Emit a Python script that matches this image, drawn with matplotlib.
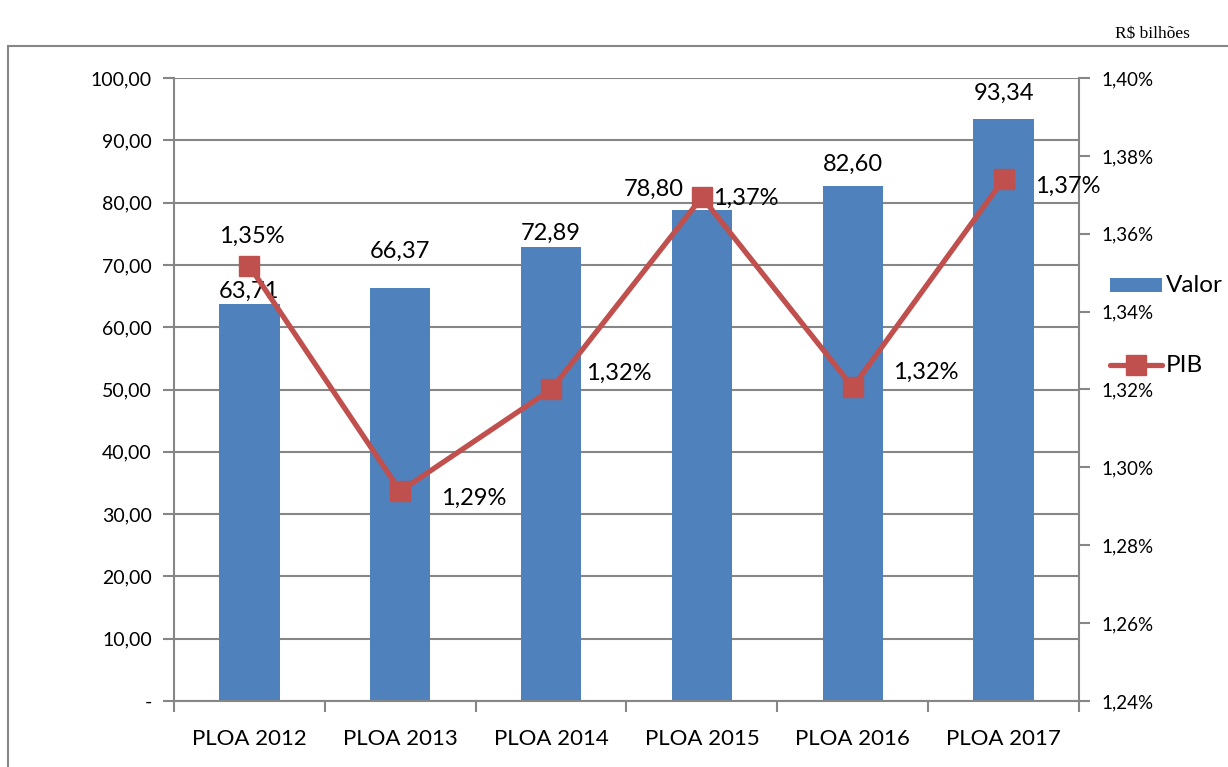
import matplotlib
matplotlib.use("Agg")
import matplotlib.pyplot as plt
from matplotlib.patches import Rectangle
from matplotlib.lines import Line2D
from matplotlib.ticker import FixedLocator, FuncFormatter

categories = ["PLOA 2012", "PLOA 2013", "PLOA 2014", "PLOA 2015", "PLOA 2016", "PLOA 2017"]
valor = [63.71, 66.37, 72.89, 78.80, 82.60, 93.34]
pib = [1.3517, 1.2939, 1.3200, 1.3694, 1.3206, 1.3740]
valor_labels = ["63,71", "66,37", "72,89", "78,80", "82,60", "93,34"]
pib_labels = ["1,35%", "1,29%", "1,32%", "1,37%", "1,32%", "1,37%"]

FONT = ["Lato", "DejaVu Sans"]
plt.rcParams["font.family"] = FONT

W, H = 1228, 767
fig = plt.figure(figsize=(W / 100, H / 100), dpi=100)
GRAY = "#868686"

# outer frame
fig.add_artist(Rectangle((8 / W, -0.1), 1.2, (H - 46) / H + 0.1, transform=fig.transFigure,
                         fill=False, edgecolor=GRAY, linewidth=1.5))
fig.text(1190 / W, (H - 34) / H, "R$ bilhões", ha="right", va="center",
         fontsize=12.5, family=["Liberation Serif", "DejaVu Serif"])

L, R, T, B = 174, 1079, 78, 701
ax = fig.add_axes([L / W, (H - B) / H, (R - L) / W, (B - T) / H])
ax2 = ax.twinx()

x = list(range(len(categories)))
ax.bar(x, valor, width=0.4, color="#4F81BD", zorder=2)
ax.set_xlim(-0.5, len(categories) - 0.5)
ax.set_ylim(0, 100)
ax.set_yticks([i * 10 for i in range(11)])
ax.yaxis.set_major_formatter(FuncFormatter(lambda v, p: "-" if v == 0 else f"{v:.2f}".replace(".", ",")))
ax.grid(axis="y", color=GRAY, linewidth=1.5, zorder=0)
ax.set_axisbelow(True)
ax.set_xticks(x)
ax.set_xticklabels(categories, fontsize=16)
ax.xaxis.set_minor_locator(FixedLocator([i - 0.5 for i in range(len(categories) + 1)]))
ax.tick_params(axis="x", which="major", length=0, pad=20)
ax.tick_params(axis="x", which="minor", length=8, width=1.5, color=GRAY)
ax.tick_params(axis="y", length=8, width=1.5, color=GRAY, labelsize=14, pad=8)
for s in ["top", "right"]:
    ax.spines[s].set_visible(False)
for s in ["left", "bottom"]:
    ax.spines[s].set_color(GRAY)
    ax.spines[s].set_linewidth(1.5)

ax2.plot(x, pib, color="#C0504D", linewidth=3.8, marker="s", markersize=14.5,
         markerfacecolor="#C0504D", markeredgecolor="#C0504D", zorder=3)
ax2.set_ylim(1.24, 1.40)
ax2.set_yticks([1.24 + 0.02 * i for i in range(9)])
ax2.yaxis.set_major_formatter(FuncFormatter(lambda v, p: f"{v:.2f}%".replace(".", ",")))
ax2.tick_params(axis="y", length=8, width=1.5, color=GRAY, labelsize=13.5, pad=8)
for s in ["top", "left", "bottom"]:
    ax2.spines[s].set_visible(False)
ax2.spines["right"].set_color(GRAY)
ax2.spines["right"].set_linewidth(1.5)

# value labels (pixel offsets relative to bar tops, up positive)
val_off = [(0, 13), (0, 36), (0, 14), (-48, 21), (0, 22), (0, 26)]
for i, (v, lab) in enumerate(zip(valor, valor_labels)):
    dx, dy = val_off[i]
    ax.annotate(lab, (i, v), xytext=(dx, dy), textcoords="offset pixels",
                ha="center", va="center", fontsize=17, zorder=5)

pib_off = [(2, 30), (73, -7), (68, 16), (44, -1), (73, 15), (64, -7)]
for i, (v, lab) in enumerate(zip(pib, pib_labels)):
    dx, dy = pib_off[i]
    ax2.annotate(lab, (i, v), xytext=(dx, dy), textcoords="offset pixels",
                 ha="center", va="center", fontsize=17, zorder=5)

# legend
fig.add_artist(Rectangle((1110 / W, (H - 292) / H), 52 / W, 14 / H, transform=fig.transFigure,
                         facecolor="#4F81BD", edgecolor="none"))
fig.text(1166 / W, (H - 285) / H, "Valor", ha="left", va="center", fontsize=17.5)
fig.add_artist(Line2D([1110 / W, 1162 / W], [(H - 365) / H] * 2, transform=fig.transFigure,
                      color="#C0504D", linewidth=3.8, solid_capstyle="round"))
fig.add_artist(Line2D([1136 / W], [(H - 365) / H], transform=fig.transFigure,
                      color="#C0504D", marker="s", markersize=14.5, linestyle="none"))
fig.text(1166 / W, (H - 365) / H, "PIB", ha="left", va="center", fontsize=17.5)

fig.savefig("out.png", dpi=100)
